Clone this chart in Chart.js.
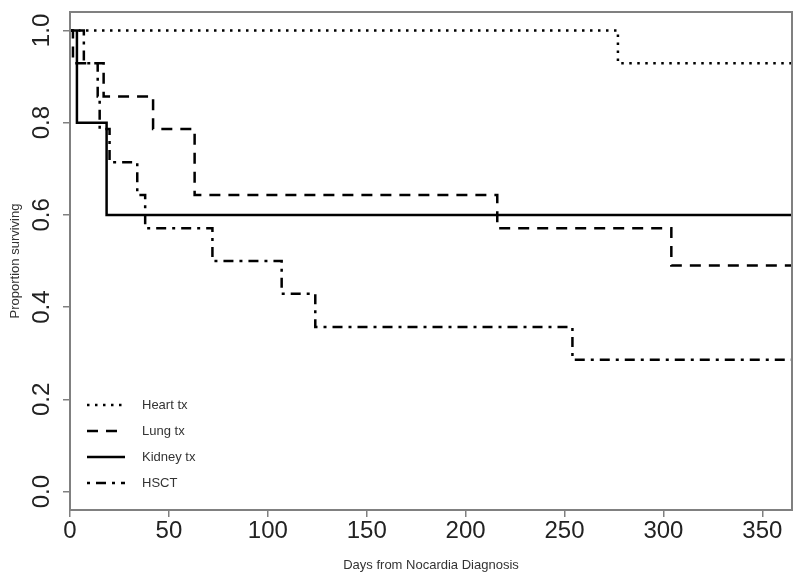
<!DOCTYPE html>
<html>
<head>
<meta charset="utf-8">
<script src="https://cdn.jsdelivr.net/npm/chart.js@4/dist/chart.umd.min.js"></script>
<style>
  html, body { margin: 0; padding: 0; background: #fff; }
  #wrap { width: 800px; height: 584px; }
</style>
</head>
<body>
<div id="wrap"><canvas id="c" width="800" height="584"></canvas></div>
<script>
// Kaplan-Meier survival estimates
const heartDays  = [0, 277, 365];
const heartSurv  = [1.0, 0.929, 0.929];

const lungDays   = [0, 1.5, 17, 42, 63, 216, 304, 365];
const lungSurv   = [1.0, 0.929, 0.857, 0.786, 0.643, 0.571, 0.490, 0.490];

const kidneyDays = [0, 3.5, 18.5, 365];
const kidneySurv = [1.0, 0.8, 0.6, 0.6];

const hsctDays   = [0, 7, 14, 15, 20, 34, 38, 72, 107, 124, 254, 365];
const hsctSurv   = [1.0, 0.929, 0.857, 0.786, 0.714, 0.643, 0.571, 0.5, 0.429, 0.357, 0.286, 0.286];

const seriesNames = ["Heart tx", "Lung tx", "Kidney tx", "HSCT"];
const xTicks = [0, 50, 100, 150, 200, 250, 300, 350];
const yTicks = [0.0, 0.2, 0.4, 0.6, 0.8, 1.0];

const FONT = "'Liberation Sans', Arial, Helvetica, sans-serif";

function pts(xs, ys) { return xs.map((x, i) => ({ x: x, y: ys[i] })); }

const dashes = [[2.5, 5.5], [11, 8], [], [3, 6, 10, 6]];
const seriesData = [pts(heartDays, heartSurv), pts(lungDays, lungSurv), pts(kidneyDays, kidneySurv), pts(hsctDays, hsctSurv)];

const datasets = seriesNames.map((name, i) => ({
  label: name,
  data: seriesData[i],
  borderColor: '#000',
  borderWidth: 2.5,
  borderDash: dashes[i],
  borderCapStyle: 'butt',
  stepped: 'before',
  pointRadius: 0,
  fill: false,
  tension: 0
}));

const boxPlugin = {
  id: 'boxPlugin',
  afterDatasetsDraw(chart) {
    const { ctx, chartArea: a } = chart;
    ctx.save();
    ctx.strokeStyle = '#808080';
    ctx.lineWidth = 2;
    ctx.strokeRect(a.left, a.top, a.right - a.left, a.bottom - a.top);
    ctx.restore();
  },
  afterDraw(chart) {
    const { ctx, chartArea: a } = chart;
    ctx.save();
    const x0 = a.left + 17, x1 = a.left + 55, tx = a.left + 72;
    const rowTop = a.bottom - 105, rowGap = 26;
    chart.data.datasets.forEach((ds, i) => {
      const y = rowTop + i * rowGap;
      ctx.beginPath();
      ctx.setLineDash(ds.borderDash || []);
      ctx.lineWidth = ds.borderWidth;
      ctx.strokeStyle = ds.borderColor;
      ctx.lineCap = 'butt';
      ctx.moveTo(x0, y);
      ctx.lineTo(x1, y);
      ctx.stroke();
      ctx.setLineDash([]);
      ctx.fillStyle = '#333';
      ctx.font = '13px ' + FONT;
      ctx.textAlign = 'left';
      ctx.textBaseline = 'middle';
      ctx.fillText(ds.label, tx, y);
    });
    ctx.restore();
  }
};

new Chart(document.getElementById('c'), {
  type: 'line',
  data: { datasets: datasets },
  plugins: [boxPlugin],
  options: {
    responsive: false,
    animation: false,
    layout: { padding: { top: 12, right: 8, left: 0, bottom: 0 } },
    plugins: { legend: { display: false }, tooltip: { enabled: false } },
    scales: {
      x: {
        type: 'linear',
        min: 0,
        max: 365,
        afterBuildTicks: (s) => { s.ticks = xTicks.map(v => ({ value: v })); },
        afterFit: (s) => { s.height = 74; s.paddingLeft = 0; s.paddingRight = 0; },
        border: { display: false },
        grid: { display: true, drawOnChartArea: false, drawTicks: true, tickLength: 7, color: '#808080', lineWidth: 1.5 },
        ticks: {
          font: { family: FONT, size: 24 },
          color: '#222',
          padding: 0,
          maxRotation: 0,
          autoSkip: false,
          callback: (v) => String(v)
        },
        title: {
          display: true,
          text: 'Days from Nocardia Diagnosis',
          font: { family: FONT, size: 13 },
          color: '#333',
          padding: { top: 5, bottom: 11 }
        }
      },
      y: {
        type: 'linear',
        min: -0.04,
        max: 1.04,
        afterBuildTicks: (s) => { s.ticks = yTicks.map(v => ({ value: v })); },
        afterFit: (s) => { s.width = 70; s.paddingTop = 0; s.paddingBottom = 0; },
        border: { display: false },
        grid: { display: true, drawOnChartArea: false, drawTicks: true, tickLength: 7, color: '#808080', lineWidth: 1.5 },
        ticks: {
          font: { family: FONT, size: 24 },
          color: '#222',
          padding: 4,
          minRotation: 90,
          maxRotation: 90,
          crossAlign: 'center',
          autoSkip: false,
          callback: (v) => Number(v).toFixed(1)
        },
        title: {
          display: true,
          text: 'Proportion surviving',
          font: { family: FONT, size: 13 },
          color: '#333',
          padding: { top: 8, bottom: 0 }
        }
      }
    }
  }
});
</script>
</body>
</html>
